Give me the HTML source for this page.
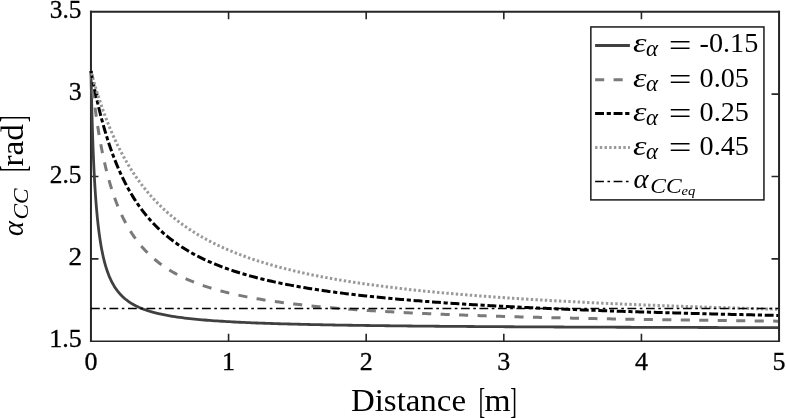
<!DOCTYPE html>
<html><head><meta charset="utf-8"><style>html,body{margin:0;padding:0;background:#fff;overflow:hidden}svg{display:block}</style></head><body>
<svg width="786" height="418" viewBox="0 0 786 418">
<rect width="786" height="418" fill="#fff"/>
<defs><clipPath id="c"><rect x="80" y="0" width="699.05" height="341.3"/></clipPath></defs>
<path d="M90.95 10.75V342.0" stroke="#262626" stroke-width="2" fill="none"/>
<path d="M89.95 341.3H780.05" stroke="#262626" stroke-width="1.5" fill="none"/>
<path d="M228.57 341.3V333.8M366.19 341.3V333.8M503.81 341.3V333.8M641.43 341.3V333.8M90.95 258.91H98.45M90.95 176.53H98.45M90.95 94.14H98.45" stroke="#262626" stroke-width="1.6" fill="none"/>
<g clip-path="url(#c)" fill="none" stroke-linejoin="round">
<path d="M91.00 70.96 L91.09 75.61 L91.17 80.09 L91.26 84.40 L91.35 88.56 L91.44 92.57 L91.52 96.44 L91.61 100.19 L91.70 103.80 L91.78 107.31 L91.87 110.70 L91.96 113.98 L92.05 117.17 L92.13 120.26 L92.22 123.25 L92.31 126.16 L92.39 128.99 L92.48 131.74 L92.57 134.41 L92.65 137.01 L92.74 139.54 L92.83 142.01 L92.92 144.41 L93.00 146.74 L93.09 149.02 L93.18 151.25 L93.26 153.42 L93.35 155.53 L93.44 157.60 L93.53 159.61 L93.61 161.58 L93.70 163.51 L93.79 165.39 L93.87 167.23 L93.96 169.03 L94.05 170.79 L94.14 172.51 L94.22 174.19 L94.31 175.84 L94.40 177.46 L94.48 179.04 L94.57 180.59 L94.66 182.11 L94.74 183.60 L94.83 185.06 L94.92 186.49 L95.01 187.89 L95.09 189.26 L95.18 190.61 L95.27 191.94 L95.35 193.24 L95.44 194.51 L95.53 195.77 L95.62 197.00 L95.70 198.21 L95.79 199.39 L95.88 200.56 L95.96 201.70 L96.05 202.83 L96.14 203.94 L96.23 205.03 L96.31 206.10 L96.40 207.15 L96.49 208.18 L96.57 209.20 L96.66 210.20 L96.75 211.19 L96.83 212.16 L96.92 213.11 L97.01 214.05 L97.10 214.97 L97.18 215.89 L97.27 216.78 L97.36 217.66 L97.44 218.53 L97.53 219.39 L97.62 220.23 L97.71 221.07 L97.79 221.88 L97.88 222.69 L98.19 225.48 L98.50 228.14 L98.81 230.66 L99.12 233.07 L99.44 235.36 L99.75 237.56 L100.06 239.65 L100.37 241.66 L100.68 243.58 L100.99 245.42 L101.30 247.19 L101.61 248.89 L101.93 250.52 L102.24 252.09 L102.55 253.60 L102.86 255.06 L103.17 256.46 L103.48 257.81 L103.79 259.12 L104.10 260.38 L104.41 261.60 L104.73 262.78 L105.04 263.91 L105.35 265.02 L105.66 266.08 L105.97 267.12 L106.28 268.12 L106.59 269.09 L106.90 270.03 L107.21 270.95 L107.53 271.84 L107.84 272.70 L108.15 273.54 L108.46 274.35 L108.77 275.15 L109.08 275.92 L109.39 276.67 L109.70 277.40 L110.02 278.11 L110.33 278.80 L110.64 279.48 L110.95 280.13 L111.26 280.78 L111.57 281.40 L111.88 282.01 L112.19 282.61 L112.50 283.19 L112.82 283.76 L113.13 284.31 L113.44 284.85 L113.75 285.38 L114.06 285.90 L114.37 286.41 L114.68 286.90 L114.99 287.39 L115.30 287.86 L115.62 288.32 L115.93 288.78 L116.24 289.22 L116.55 289.66 L116.86 290.08 L117.17 290.50 L117.48 290.91 L117.79 291.31 L118.11 291.70 L118.42 292.09 L118.73 292.47 L119.04 292.84 L119.35 293.20 L119.66 293.56 L119.97 293.91 L120.28 294.25 L120.59 294.59 L120.91 294.92 L121.22 295.24 L121.53 295.56 L121.84 295.88 L122.15 296.18 L122.46 296.49 L122.77 296.78 L123.08 297.08 L123.39 297.36 L123.71 297.64 L124.02 297.92 L124.33 298.19 L124.64 298.46 L124.95 298.73 L125.26 298.99 L125.57 299.24 L125.88 299.49 L126.20 299.74 L126.51 299.98 L126.82 300.22 L127.13 300.46 L127.44 300.69 L127.75 300.92 L128.06 301.15 L128.37 301.37 L128.68 301.59 L129.00 301.80 L129.31 302.01 L129.62 302.22 L129.93 302.43 L130.24 302.63 L130.55 302.83 L130.86 303.03 L131.17 303.22 L131.48 303.41 L131.80 303.60 L132.11 303.79 L132.42 303.97 L132.73 304.15 L133.04 304.33 L133.35 304.51 L133.66 304.68 L133.97 304.85 L134.29 305.02 L134.60 305.19 L134.91 305.36 L135.22 305.52 L135.53 305.68 L135.84 305.84 L136.15 305.99 L136.46 306.15 L136.77 306.30 L137.09 306.45 L137.40 306.60 L137.71 306.75 L138.02 306.89 L138.33 307.03 L138.64 307.18 L138.95 307.32 L139.26 307.45 L139.57 307.59 L139.89 307.72 L140.20 307.86 L140.51 307.99 L140.82 308.12 L141.13 308.25 L141.44 308.38 L141.75 308.50 L142.06 308.62 L142.38 308.75 L142.69 308.87 L143.00 308.99 L143.31 309.11 L143.62 309.22 L143.93 309.34 L144.24 309.45 L144.55 309.57 L144.86 309.68 L145.18 309.79 L145.49 309.90 L145.80 310.01 L146.11 310.12 L146.42 310.22 L146.73 310.33 L147.04 310.43 L147.35 310.53 L147.66 310.64 L147.98 310.74 L148.29 310.84 L148.60 310.94 L148.91 311.03 L149.22 311.13 L149.53 311.23 L149.84 311.32 L150.15 311.41 L150.47 311.51 L150.78 311.60 L151.09 311.69 L151.40 311.78 L151.71 311.87 L152.02 311.96 L152.33 312.04 L152.64 312.13 L152.95 312.22 L153.27 312.30 L153.58 312.38 L153.89 312.47 L154.20 312.55 L154.51 312.63 L154.82 312.71 L155.13 312.79 L155.44 312.87 L155.75 312.95 L156.07 313.03 L156.38 313.11 L156.69 313.18 L157.00 313.26 L157.31 313.33 L157.62 313.41 L157.93 313.48 L158.24 313.56 L158.56 313.63 L158.87 313.70 L159.18 313.77 L159.49 313.84 L159.80 313.91 L162.29 314.45 L164.77 314.95 L167.26 315.42 L169.75 315.86 L172.23 316.28 L174.72 316.67 L177.21 317.03 L179.69 317.38 L182.18 317.71 L184.67 318.02 L187.15 318.32 L189.64 318.60 L192.13 318.87 L194.61 319.12 L197.10 319.36 L199.59 319.59 L202.07 319.81 L204.56 320.02 L207.05 320.23 L209.53 320.42 L212.02 320.60 L214.51 320.78 L217.00 320.95 L219.48 321.12 L221.97 321.27 L224.46 321.43 L226.94 321.57 L229.43 321.71 L231.92 321.85 L234.40 321.98 L236.89 322.11 L239.38 322.23 L241.86 322.35 L244.35 322.46 L246.84 322.57 L249.32 322.68 L251.81 322.78 L254.30 322.88 L256.78 322.98 L259.27 323.07 L261.76 323.17 L264.24 323.25 L266.73 323.34 L269.22 323.42 L271.70 323.51 L274.19 323.59 L276.68 323.66 L279.16 323.74 L281.65 323.81 L284.14 323.88 L286.62 323.95 L289.11 324.02 L291.60 324.08 L294.08 324.15 L296.57 324.21 L299.06 324.27 L301.54 324.33 L304.03 324.39 L306.52 324.44 L309.00 324.50 L311.49 324.55 L313.98 324.61 L316.47 324.66 L318.95 324.71 L321.44 324.76 L323.93 324.81 L326.41 324.85 L328.90 324.90 L331.39 324.94 L333.87 324.99 L336.36 325.03 L338.85 325.07 L341.33 325.12 L343.82 325.16 L346.31 325.20 L348.79 325.24 L351.28 325.27 L353.77 325.31 L356.25 325.35 L358.74 325.38 L361.23 325.42 L363.71 325.45 L366.20 325.49 L368.69 325.52 L371.17 325.55 L373.66 325.59 L376.15 325.62 L378.63 325.65 L381.12 325.68 L383.61 325.71 L386.09 325.74 L388.58 325.77 L391.07 325.80 L393.55 325.82 L396.04 325.85 L398.53 325.88 L401.01 325.91 L403.50 325.93 L405.99 325.96 L408.47 325.98 L410.96 326.01 L413.45 326.03 L415.93 326.06 L418.42 326.08 L420.91 326.10 L423.40 326.13 L425.88 326.15 L428.37 326.17 L430.86 326.19 L433.34 326.22 L435.83 326.24 L438.32 326.26 L440.80 326.28 L443.29 326.30 L445.78 326.32 L448.26 326.34 L450.75 326.36 L453.24 326.38 L455.72 326.40 L458.21 326.41 L460.70 326.43 L463.18 326.45 L465.67 326.47 L468.16 326.49 L470.64 326.50 L473.13 326.52 L475.62 326.54 L478.10 326.56 L480.59 326.57 L483.08 326.59 L485.56 326.60 L488.05 326.62 L490.54 326.64 L493.02 326.65 L495.51 326.67 L498.00 326.68 L500.48 326.70 L502.97 326.71 L505.46 326.73 L507.94 326.74 L510.43 326.75 L512.92 326.77 L515.40 326.78 L517.89 326.80 L520.38 326.81 L522.87 326.82 L525.35 326.84 L527.84 326.85 L530.33 326.86 L532.81 326.87 L535.30 326.89 L537.79 326.90 L540.27 326.91 L542.76 326.92 L545.25 326.94 L547.73 326.95 L550.22 326.96 L552.71 326.97 L555.19 326.98 L557.68 326.99 L560.17 327.00 L562.65 327.02 L565.14 327.03 L567.63 327.04 L570.11 327.05 L572.60 327.06 L575.09 327.07 L577.57 327.08 L580.06 327.09 L582.55 327.10 L585.03 327.11 L587.52 327.12 L590.01 327.13 L592.49 327.14 L594.98 327.15 L597.47 327.16 L599.95 327.17 L602.44 327.18 L604.93 327.19 L607.41 327.20 L609.90 327.21 L612.39 327.21 L614.87 327.22 L617.36 327.23 L619.85 327.24 L622.33 327.25 L624.82 327.26 L627.31 327.27 L629.80 327.27 L632.28 327.28 L634.77 327.29 L637.26 327.30 L639.74 327.31 L642.23 327.32 L644.72 327.32 L647.20 327.33 L649.69 327.34 L652.18 327.35 L654.66 327.35 L657.15 327.36 L659.64 327.37 L662.12 327.38 L664.61 327.38 L667.10 327.39 L669.58 327.40 L672.07 327.41 L674.56 327.41 L677.04 327.42 L679.53 327.43 L682.02 327.43 L684.50 327.44 L686.99 327.45 L689.48 327.45 L691.96 327.46 L694.45 327.47 L696.94 327.47 L699.42 327.48 L701.91 327.49 L704.40 327.49 L706.88 327.50 L709.37 327.51 L711.86 327.51 L714.34 327.52 L716.83 327.52 L719.32 327.53 L721.80 327.54 L724.29 327.54 L726.78 327.55 L729.27 327.55 L731.75 327.56 L734.24 327.57 L736.73 327.57 L739.21 327.58 L741.70 327.58 L744.19 327.59 L746.67 327.59 L749.16 327.60 L751.65 327.61 L754.13 327.61 L756.62 327.62 L759.11 327.62 L761.59 327.63 L764.08 327.63 L766.57 327.64 L769.05 327.64 L771.54 327.65 L774.03 327.65 L776.51 327.66 L779.00 327.66" stroke="#404040" stroke-width="2.8"/>
<path d="M91.00 70.96 L91.09 71.87 L91.17 72.78 L91.26 73.68 L91.35 74.57 L91.44 75.46 L91.52 76.34 L91.61 77.21 L91.70 78.08 L91.78 78.94 L91.87 79.80 L91.96 80.65 L92.05 81.49 L92.13 82.33 L92.22 83.16 L92.31 83.99 L92.39 84.81 L92.48 85.63 L92.57 86.44 L92.65 87.24 L92.74 88.04 L92.83 88.83 L92.92 89.62 L93.00 90.40 L93.09 91.18 L93.18 91.95 L93.26 92.72 L93.35 93.48 L93.44 94.24 L93.53 94.99 L93.61 95.74 L93.70 96.48 L93.79 97.22 L93.87 97.95 L93.96 98.68 L94.05 99.41 L94.14 100.13 L94.22 100.84 L94.31 101.55 L94.40 102.26 L94.48 102.96 L94.57 103.66 L94.66 104.35 L94.74 105.04 L94.83 105.72 L94.92 106.40 L95.01 107.08 L95.09 107.75 L95.18 108.42 L95.27 109.08 L95.35 109.74 L95.44 110.40 L95.53 111.05 L95.62 111.70 L95.70 112.34 L95.79 112.98 L95.88 113.62 L95.96 114.25 L96.05 114.88 L96.14 115.50 L96.23 116.13 L96.31 116.74 L96.40 117.36 L96.49 117.97 L96.57 118.58 L96.66 119.18 L96.75 119.78 L96.83 120.38 L96.92 120.97 L97.01 121.56 L97.10 122.15 L97.18 122.73 L97.27 123.32 L97.36 123.89 L97.44 124.47 L97.53 125.04 L97.62 125.61 L97.71 126.17 L97.79 126.73 L97.88 127.29 L98.19 129.26 L98.50 131.19 L98.81 133.09 L99.12 134.95 L99.44 136.78 L99.75 138.57 L100.06 140.33 L100.37 142.06 L100.68 143.76 L100.99 145.43 L101.30 147.07 L101.61 148.68 L101.93 150.26 L102.24 151.82 L102.55 153.35 L102.86 154.85 L103.17 156.33 L103.48 157.79 L103.79 159.22 L104.10 160.63 L104.41 162.01 L104.73 163.38 L105.04 164.72 L105.35 166.04 L105.66 167.35 L105.97 168.63 L106.28 169.89 L106.59 171.13 L106.90 172.36 L107.21 173.56 L107.53 174.75 L107.84 175.93 L108.15 177.08 L108.46 178.22 L108.77 179.34 L109.08 180.45 L109.39 181.54 L109.70 182.61 L110.02 183.67 L110.33 184.72 L110.64 185.75 L110.95 186.77 L111.26 187.77 L111.57 188.76 L111.88 189.74 L112.19 190.70 L112.50 191.65 L112.82 192.59 L113.13 193.52 L113.44 194.44 L113.75 195.34 L114.06 196.23 L114.37 197.11 L114.68 197.98 L114.99 198.84 L115.30 199.69 L115.62 200.53 L115.93 201.35 L116.24 202.17 L116.55 202.98 L116.86 203.78 L117.17 204.56 L117.48 205.34 L117.79 206.11 L118.11 206.87 L118.42 207.63 L118.73 208.37 L119.04 209.10 L119.35 209.83 L119.66 210.55 L119.97 211.26 L120.28 211.96 L120.59 212.65 L120.91 213.34 L121.22 214.02 L121.53 214.69 L121.84 215.35 L122.15 216.01 L122.46 216.66 L122.77 217.30 L123.08 217.94 L123.39 218.57 L123.71 219.19 L124.02 219.80 L124.33 220.41 L124.64 221.01 L124.95 221.61 L125.26 222.20 L125.57 222.78 L125.88 223.36 L126.20 223.93 L126.51 224.50 L126.82 225.06 L127.13 225.62 L127.44 226.17 L127.75 226.71 L128.06 227.25 L128.37 227.78 L128.68 228.31 L129.00 228.83 L129.31 229.35 L129.62 229.86 L129.93 230.37 L130.24 230.87 L130.55 231.37 L130.86 231.86 L131.17 232.35 L131.48 232.84 L131.80 233.32 L132.11 233.79 L132.42 234.26 L132.73 234.73 L133.04 235.19 L133.35 235.65 L133.66 236.10 L133.97 236.55 L134.29 236.99 L134.60 237.44 L134.91 237.87 L135.22 238.31 L135.53 238.74 L135.84 239.16 L136.15 239.58 L136.46 240.00 L136.77 240.42 L137.09 240.83 L137.40 241.23 L137.71 241.64 L138.02 242.04 L138.33 242.44 L138.64 242.83 L138.95 243.22 L139.26 243.61 L139.57 243.99 L139.89 244.37 L140.20 244.75 L140.51 245.12 L140.82 245.49 L141.13 245.86 L141.44 246.22 L141.75 246.59 L142.06 246.95 L142.38 247.30 L142.69 247.65 L143.00 248.00 L143.31 248.35 L143.62 248.70 L143.93 249.04 L144.24 249.38 L144.55 249.71 L144.86 250.05 L145.18 250.38 L145.49 250.71 L145.80 251.03 L146.11 251.36 L146.42 251.68 L146.73 252.00 L147.04 252.31 L147.35 252.62 L147.66 252.94 L147.98 253.24 L148.29 253.55 L148.60 253.85 L148.91 254.16 L149.22 254.46 L149.53 254.75 L149.84 255.05 L150.15 255.34 L150.47 255.63 L150.78 255.92 L151.09 256.21 L151.40 256.49 L151.71 256.77 L152.02 257.05 L152.33 257.33 L152.64 257.61 L152.95 257.88 L153.27 258.15 L153.58 258.42 L153.89 258.69 L154.20 258.96 L154.51 259.22 L154.82 259.48 L155.13 259.74 L155.44 260.00 L155.75 260.26 L156.07 260.51 L156.38 260.77 L156.69 261.02 L157.00 261.27 L157.31 261.52 L157.62 261.76 L157.93 262.01 L158.24 262.25 L158.56 262.49 L158.87 262.73 L159.18 262.97 L159.49 263.21 L159.80 263.44 L162.29 265.26 L164.77 266.99 L167.26 268.64 L169.75 270.20 L172.23 271.69 L174.72 273.10 L177.21 274.46 L179.69 275.75 L182.18 276.98 L184.67 278.17 L187.15 279.30 L189.64 280.38 L192.13 281.43 L194.61 282.42 L197.10 283.38 L199.59 284.31 L202.07 285.20 L204.56 286.05 L207.05 286.87 L209.53 287.67 L212.02 288.43 L214.51 289.17 L217.00 289.89 L219.48 290.58 L221.97 291.24 L224.46 291.89 L226.94 292.51 L229.43 293.12 L231.92 293.70 L234.40 294.27 L236.89 294.82 L239.38 295.35 L241.86 295.87 L244.35 296.37 L246.84 296.86 L249.32 297.33 L251.81 297.79 L254.30 298.24 L256.78 298.68 L259.27 299.10 L261.76 299.51 L264.24 299.91 L266.73 300.30 L269.22 300.68 L271.70 301.05 L274.19 301.42 L276.68 301.77 L279.16 302.11 L281.65 302.45 L284.14 302.77 L286.62 303.09 L289.11 303.40 L291.60 303.71 L294.08 304.01 L296.57 304.30 L299.06 304.58 L301.54 304.86 L304.03 305.13 L306.52 305.40 L309.00 305.66 L311.49 305.91 L313.98 306.16 L316.47 306.40 L318.95 306.64 L321.44 306.87 L323.93 307.10 L326.41 307.33 L328.90 307.54 L331.39 307.76 L333.87 307.97 L336.36 308.18 L338.85 308.38 L341.33 308.58 L343.82 308.77 L346.31 308.96 L348.79 309.15 L351.28 309.34 L353.77 309.52 L356.25 309.69 L358.74 309.87 L361.23 310.04 L363.71 310.21 L366.20 310.37 L368.69 310.53 L371.17 310.69 L373.66 310.85 L376.15 311.00 L378.63 311.15 L381.12 311.30 L383.61 311.45 L386.09 311.59 L388.58 311.73 L391.07 311.87 L393.55 312.01 L396.04 312.14 L398.53 312.28 L401.01 312.41 L403.50 312.53 L405.99 312.66 L408.47 312.79 L410.96 312.91 L413.45 313.03 L415.93 313.15 L418.42 313.26 L420.91 313.38 L423.40 313.49 L425.88 313.60 L428.37 313.71 L430.86 313.82 L433.34 313.93 L435.83 314.03 L438.32 314.14 L440.80 314.24 L443.29 314.34 L445.78 314.44 L448.26 314.54 L450.75 314.63 L453.24 314.73 L455.72 314.82 L458.21 314.92 L460.70 315.01 L463.18 315.10 L465.67 315.19 L468.16 315.27 L470.64 315.36 L473.13 315.45 L475.62 315.53 L478.10 315.61 L480.59 315.70 L483.08 315.78 L485.56 315.86 L488.05 315.94 L490.54 316.01 L493.02 316.09 L495.51 316.17 L498.00 316.24 L500.48 316.32 L502.97 316.39 L505.46 316.46 L507.94 316.53 L510.43 316.60 L512.92 316.67 L515.40 316.74 L517.89 316.81 L520.38 316.88 L522.87 316.94 L525.35 317.01 L527.84 317.08 L530.33 317.14 L532.81 317.20 L535.30 317.27 L537.79 317.33 L540.27 317.39 L542.76 317.45 L545.25 317.51 L547.73 317.57 L550.22 317.63 L552.71 317.69 L555.19 317.74 L557.68 317.80 L560.17 317.86 L562.65 317.91 L565.14 317.97 L567.63 318.02 L570.11 318.08 L572.60 318.13 L575.09 318.18 L577.57 318.23 L580.06 318.29 L582.55 318.34 L585.03 318.39 L587.52 318.44 L590.01 318.49 L592.49 318.53 L594.98 318.58 L597.47 318.63 L599.95 318.68 L602.44 318.73 L604.93 318.77 L607.41 318.82 L609.90 318.86 L612.39 318.91 L614.87 318.95 L617.36 319.00 L619.85 319.04 L622.33 319.09 L624.82 319.13 L627.31 319.17 L629.80 319.21 L632.28 319.26 L634.77 319.30 L637.26 319.34 L639.74 319.38 L642.23 319.42 L644.72 319.46 L647.20 319.50 L649.69 319.54 L652.18 319.58 L654.66 319.61 L657.15 319.65 L659.64 319.69 L662.12 319.73 L664.61 319.76 L667.10 319.80 L669.58 319.84 L672.07 319.87 L674.56 319.91 L677.04 319.94 L679.53 319.98 L682.02 320.01 L684.50 320.05 L686.99 320.08 L689.48 320.12 L691.96 320.15 L694.45 320.18 L696.94 320.22 L699.42 320.25 L701.91 320.28 L704.40 320.31 L706.88 320.35 L709.37 320.38 L711.86 320.41 L714.34 320.44 L716.83 320.47 L719.32 320.50 L721.80 320.53 L724.29 320.56 L726.78 320.59 L729.27 320.62 L731.75 320.65 L734.24 320.68 L736.73 320.71 L739.21 320.74 L741.70 320.77 L744.19 320.80 L746.67 320.82 L749.16 320.85 L751.65 320.88 L754.13 320.91 L756.62 320.93 L759.11 320.96 L761.59 320.99 L764.08 321.01 L766.57 321.04 L769.05 321.07 L771.54 321.09 L774.03 321.12 L776.51 321.14 L779.00 321.17" stroke="#7a7a7a" stroke-width="3" stroke-dasharray="9.1 9.38"/>
<path d="M91.00 70.96 L91.09 71.43 L91.17 71.90 L91.26 72.36 L91.35 72.83 L91.44 73.29 L91.52 73.75 L91.61 74.22 L91.70 74.67 L91.78 75.13 L91.87 75.59 L91.96 76.04 L92.05 76.50 L92.13 76.95 L92.22 77.40 L92.31 77.85 L92.39 78.30 L92.48 78.75 L92.57 79.19 L92.65 79.64 L92.74 80.08 L92.83 80.52 L92.92 80.96 L93.00 81.40 L93.09 81.83 L93.18 82.27 L93.26 82.70 L93.35 83.14 L93.44 83.57 L93.53 84.00 L93.61 84.43 L93.70 84.86 L93.79 85.28 L93.87 85.71 L93.96 86.13 L94.05 86.56 L94.14 86.98 L94.22 87.40 L94.31 87.82 L94.40 88.23 L94.48 88.65 L94.57 89.06 L94.66 89.48 L94.74 89.89 L94.83 90.30 L94.92 90.71 L95.01 91.12 L95.09 91.53 L95.18 91.93 L95.27 92.34 L95.35 92.74 L95.44 93.15 L95.53 93.55 L95.62 93.95 L95.70 94.35 L95.79 94.75 L95.88 95.14 L95.96 95.54 L96.05 95.93 L96.14 96.33 L96.23 96.72 L96.31 97.11 L96.40 97.50 L96.49 97.89 L96.57 98.27 L96.66 98.66 L96.75 99.05 L96.83 99.43 L96.92 99.81 L97.01 100.19 L97.10 100.57 L97.18 100.95 L97.27 101.33 L97.36 101.71 L97.44 102.09 L97.53 102.46 L97.62 102.84 L97.71 103.21 L97.79 103.58 L97.88 103.95 L98.19 105.27 L98.50 106.57 L98.81 107.86 L99.12 109.13 L99.44 110.40 L99.75 111.65 L100.06 112.89 L100.37 114.11 L100.68 115.32 L100.99 116.52 L101.30 117.71 L101.61 118.89 L101.93 120.06 L102.24 121.21 L102.55 122.35 L102.86 123.48 L103.17 124.61 L103.48 125.71 L103.79 126.81 L104.10 127.90 L104.41 128.98 L104.73 130.05 L105.04 131.11 L105.35 132.15 L105.66 133.19 L105.97 134.22 L106.28 135.24 L106.59 136.25 L106.90 137.25 L107.21 138.24 L107.53 139.22 L107.84 140.19 L108.15 141.15 L108.46 142.11 L108.77 143.05 L109.08 143.99 L109.39 144.92 L109.70 145.84 L110.02 146.75 L110.33 147.65 L110.64 148.55 L110.95 149.43 L111.26 150.31 L111.57 151.19 L111.88 152.05 L112.19 152.91 L112.50 153.76 L112.82 154.60 L113.13 155.43 L113.44 156.26 L113.75 157.08 L114.06 157.89 L114.37 158.70 L114.68 159.50 L114.99 160.29 L115.30 161.08 L115.62 161.86 L115.93 162.63 L116.24 163.39 L116.55 164.15 L116.86 164.91 L117.17 165.65 L117.48 166.39 L117.79 167.13 L118.11 167.86 L118.42 168.58 L118.73 169.30 L119.04 170.01 L119.35 170.71 L119.66 171.41 L119.97 172.11 L120.28 172.79 L120.59 173.48 L120.91 174.15 L121.22 174.82 L121.53 175.49 L121.84 176.15 L122.15 176.81 L122.46 177.46 L122.77 178.10 L123.08 178.74 L123.39 179.38 L123.71 180.01 L124.02 180.64 L124.33 181.26 L124.64 181.87 L124.95 182.48 L125.26 183.09 L125.57 183.69 L125.88 184.29 L126.20 184.88 L126.51 185.47 L126.82 186.06 L127.13 186.64 L127.44 187.21 L127.75 187.78 L128.06 188.35 L128.37 188.91 L128.68 189.47 L129.00 190.02 L129.31 190.57 L129.62 191.12 L129.93 191.66 L130.24 192.20 L130.55 192.73 L130.86 193.26 L131.17 193.79 L131.48 194.31 L131.80 194.83 L132.11 195.35 L132.42 195.86 L132.73 196.37 L133.04 196.87 L133.35 197.37 L133.66 197.87 L133.97 198.36 L134.29 198.85 L134.60 199.34 L134.91 199.82 L135.22 200.30 L135.53 200.78 L135.84 201.25 L136.15 201.72 L136.46 202.19 L136.77 202.65 L137.09 203.11 L137.40 203.57 L137.71 204.02 L138.02 204.47 L138.33 204.92 L138.64 205.37 L138.95 205.81 L139.26 206.25 L139.57 206.69 L139.89 207.12 L140.20 207.55 L140.51 207.98 L140.82 208.40 L141.13 208.82 L141.44 209.24 L141.75 209.66 L142.06 210.07 L142.38 210.48 L142.69 210.89 L143.00 211.30 L143.31 211.70 L143.62 212.10 L143.93 212.50 L144.24 212.89 L144.55 213.28 L144.86 213.67 L145.18 214.06 L145.49 214.45 L145.80 214.83 L146.11 215.21 L146.42 215.59 L146.73 215.96 L147.04 216.34 L147.35 216.71 L147.66 217.08 L147.98 217.44 L148.29 217.81 L148.60 218.17 L148.91 218.53 L149.22 218.89 L149.53 219.24 L149.84 219.59 L150.15 219.94 L150.47 220.29 L150.78 220.64 L151.09 220.98 L151.40 221.33 L151.71 221.67 L152.02 222.00 L152.33 222.34 L152.64 222.67 L152.95 223.01 L153.27 223.34 L153.58 223.67 L153.89 223.99 L154.20 224.32 L154.51 224.64 L154.82 224.96 L155.13 225.28 L155.44 225.59 L155.75 225.91 L156.07 226.22 L156.38 226.53 L156.69 226.84 L157.00 227.15 L157.31 227.46 L157.62 227.76 L157.93 228.06 L158.24 228.36 L158.56 228.66 L158.87 228.96 L159.18 229.26 L159.49 229.55 L159.80 229.84 L162.29 232.12 L164.77 234.30 L167.26 236.39 L169.75 238.39 L172.23 240.30 L174.72 242.14 L177.21 243.91 L179.69 245.61 L182.18 247.25 L184.67 248.82 L187.15 250.34 L189.64 251.80 L192.13 253.20 L194.61 254.56 L197.10 255.87 L199.59 257.14 L202.07 258.37 L204.56 259.55 L207.05 260.70 L209.53 261.81 L212.02 262.88 L214.51 263.92 L217.00 264.93 L219.48 265.91 L221.97 266.86 L224.46 267.79 L226.94 268.68 L229.43 269.55 L231.92 270.40 L234.40 271.22 L236.89 272.02 L239.38 272.80 L241.86 273.56 L244.35 274.29 L246.84 275.01 L249.32 275.71 L251.81 276.40 L254.30 277.06 L256.78 277.71 L259.27 278.34 L261.76 278.96 L264.24 279.56 L266.73 280.15 L269.22 280.73 L271.70 281.29 L274.19 281.84 L276.68 282.38 L279.16 282.90 L281.65 283.42 L284.14 283.92 L286.62 284.41 L289.11 284.89 L291.60 285.36 L294.08 285.82 L296.57 286.27 L299.06 286.72 L301.54 287.15 L304.03 287.58 L306.52 287.99 L309.00 288.40 L311.49 288.80 L313.98 289.19 L316.47 289.58 L318.95 289.96 L321.44 290.33 L323.93 290.69 L326.41 291.05 L328.90 291.40 L331.39 291.74 L333.87 292.08 L336.36 292.42 L338.85 292.74 L341.33 293.06 L343.82 293.38 L346.31 293.69 L348.79 293.99 L351.28 294.29 L353.77 294.59 L356.25 294.88 L358.74 295.16 L361.23 295.45 L363.71 295.72 L366.20 295.99 L368.69 296.26 L371.17 296.52 L373.66 296.78 L376.15 297.04 L378.63 297.29 L381.12 297.54 L383.61 297.78 L386.09 298.02 L388.58 298.26 L391.07 298.49 L393.55 298.72 L396.04 298.95 L398.53 299.17 L401.01 299.39 L403.50 299.61 L405.99 299.82 L408.47 300.03 L410.96 300.24 L413.45 300.45 L415.93 300.65 L418.42 300.85 L420.91 301.05 L423.40 301.24 L425.88 301.43 L428.37 301.62 L430.86 301.81 L433.34 301.99 L435.83 302.17 L438.32 302.35 L440.80 302.53 L443.29 302.71 L445.78 302.88 L448.26 303.05 L450.75 303.22 L453.24 303.38 L455.72 303.55 L458.21 303.71 L460.70 303.87 L463.18 304.03 L465.67 304.19 L468.16 304.34 L470.64 304.49 L473.13 304.65 L475.62 304.80 L478.10 304.94 L480.59 305.09 L483.08 305.23 L485.56 305.38 L488.05 305.52 L490.54 305.66 L493.02 305.79 L495.51 305.93 L498.00 306.07 L500.48 306.20 L502.97 306.33 L505.46 306.46 L507.94 306.59 L510.43 306.72 L512.92 306.85 L515.40 306.97 L517.89 307.09 L520.38 307.22 L522.87 307.34 L525.35 307.46 L527.84 307.58 L530.33 307.69 L532.81 307.81 L535.30 307.92 L537.79 308.04 L540.27 308.15 L542.76 308.26 L545.25 308.37 L547.73 308.48 L550.22 308.59 L552.71 308.70 L555.19 308.80 L557.68 308.91 L560.17 309.01 L562.65 309.12 L565.14 309.22 L567.63 309.32 L570.11 309.42 L572.60 309.52 L575.09 309.62 L577.57 309.72 L580.06 309.81 L582.55 309.91 L585.03 310.00 L587.52 310.10 L590.01 310.19 L592.49 310.28 L594.98 310.37 L597.47 310.46 L599.95 310.55 L602.44 310.64 L604.93 310.73 L607.41 310.82 L609.90 310.91 L612.39 310.99 L614.87 311.08 L617.36 311.16 L619.85 311.24 L622.33 311.33 L624.82 311.41 L627.31 311.49 L629.80 311.57 L632.28 311.65 L634.77 311.73 L637.26 311.81 L639.74 311.89 L642.23 311.97 L644.72 312.04 L647.20 312.12 L649.69 312.20 L652.18 312.27 L654.66 312.35 L657.15 312.42 L659.64 312.49 L662.12 312.57 L664.61 312.64 L667.10 312.71 L669.58 312.78 L672.07 312.85 L674.56 312.92 L677.04 312.99 L679.53 313.06 L682.02 313.13 L684.50 313.19 L686.99 313.26 L689.48 313.33 L691.96 313.39 L694.45 313.46 L696.94 313.52 L699.42 313.59 L701.91 313.65 L704.40 313.72 L706.88 313.78 L709.37 313.84 L711.86 313.91 L714.34 313.97 L716.83 314.03 L719.32 314.09 L721.80 314.15 L724.29 314.21 L726.78 314.27 L729.27 314.33 L731.75 314.39 L734.24 314.45 L736.73 314.50 L739.21 314.56 L741.70 314.62 L744.19 314.68 L746.67 314.73 L749.16 314.79 L751.65 314.84 L754.13 314.90 L756.62 314.95 L759.11 315.01 L761.59 315.06 L764.08 315.12 L766.57 315.17 L769.05 315.22 L771.54 315.27 L774.03 315.33 L776.51 315.38 L779.00 315.43" stroke="#000000" stroke-width="3" stroke-dasharray="8.9 2.7 4.2 2.7"/>
<path d="M91.00 70.96 L91.09 71.29 L91.17 71.62 L91.26 71.95 L91.35 72.27 L91.44 72.60 L91.52 72.93 L91.61 73.25 L91.70 73.58 L91.78 73.90 L91.87 74.22 L91.96 74.55 L92.05 74.87 L92.13 75.19 L92.22 75.51 L92.31 75.83 L92.39 76.15 L92.48 76.47 L92.57 76.78 L92.65 77.10 L92.74 77.42 L92.83 77.73 L92.92 78.04 L93.00 78.36 L93.09 78.67 L93.18 78.98 L93.26 79.30 L93.35 79.61 L93.44 79.92 L93.53 80.23 L93.61 80.53 L93.70 80.84 L93.79 81.15 L93.87 81.46 L93.96 81.76 L94.05 82.07 L94.14 82.37 L94.22 82.68 L94.31 82.98 L94.40 83.28 L94.48 83.58 L94.57 83.88 L94.66 84.19 L94.74 84.49 L94.83 84.78 L94.92 85.08 L95.01 85.38 L95.09 85.68 L95.18 85.97 L95.27 86.27 L95.35 86.57 L95.44 86.86 L95.53 87.15 L95.62 87.45 L95.70 87.74 L95.79 88.03 L95.88 88.32 L95.96 88.61 L96.05 88.90 L96.14 89.19 L96.23 89.48 L96.31 89.77 L96.40 90.06 L96.49 90.34 L96.57 90.63 L96.66 90.92 L96.75 91.20 L96.83 91.49 L96.92 91.77 L97.01 92.05 L97.10 92.34 L97.18 92.62 L97.27 92.90 L97.36 93.18 L97.44 93.46 L97.53 93.74 L97.62 94.02 L97.71 94.30 L97.79 94.57 L97.88 94.85 L98.19 95.84 L98.50 96.81 L98.81 97.78 L99.12 98.75 L99.44 99.70 L99.75 100.65 L100.06 101.59 L100.37 102.52 L100.68 103.45 L100.99 104.37 L101.30 105.29 L101.61 106.19 L101.93 107.09 L102.24 107.99 L102.55 108.87 L102.86 109.75 L103.17 110.63 L103.48 111.50 L103.79 112.36 L104.10 113.21 L104.41 114.06 L104.73 114.90 L105.04 115.74 L105.35 116.57 L105.66 117.40 L105.97 118.22 L106.28 119.03 L106.59 119.84 L106.90 120.64 L107.21 121.44 L107.53 122.23 L107.84 123.01 L108.15 123.79 L108.46 124.57 L108.77 125.34 L109.08 126.10 L109.39 126.86 L109.70 127.62 L110.02 128.37 L110.33 129.11 L110.64 129.85 L110.95 130.58 L111.26 131.31 L111.57 132.03 L111.88 132.75 L112.19 133.47 L112.50 134.18 L112.82 134.88 L113.13 135.58 L113.44 136.28 L113.75 136.97 L114.06 137.66 L114.37 138.34 L114.68 139.02 L114.99 139.69 L115.30 140.36 L115.62 141.03 L115.93 141.69 L116.24 142.34 L116.55 142.99 L116.86 143.64 L117.17 144.29 L117.48 144.93 L117.79 145.56 L118.11 146.19 L118.42 146.82 L118.73 147.45 L119.04 148.07 L119.35 148.68 L119.66 149.29 L119.97 149.90 L120.28 150.51 L120.59 151.11 L120.91 151.71 L121.22 152.30 L121.53 152.89 L121.84 153.48 L122.15 154.06 L122.46 154.64 L122.77 155.21 L123.08 155.79 L123.39 156.36 L123.71 156.92 L124.02 157.48 L124.33 158.04 L124.64 158.60 L124.95 159.15 L125.26 159.70 L125.57 160.25 L125.88 160.79 L126.20 161.33 L126.51 161.86 L126.82 162.40 L127.13 162.93 L127.44 163.45 L127.75 163.98 L128.06 164.50 L128.37 165.02 L128.68 165.53 L129.00 166.04 L129.31 166.55 L129.62 167.06 L129.93 167.56 L130.24 168.06 L130.55 168.56 L130.86 169.05 L131.17 169.55 L131.48 170.04 L131.80 170.52 L132.11 171.01 L132.42 171.49 L132.73 171.97 L133.04 172.44 L133.35 172.91 L133.66 173.38 L133.97 173.85 L134.29 174.32 L134.60 174.78 L134.91 175.24 L135.22 175.70 L135.53 176.15 L135.84 176.61 L136.15 177.06 L136.46 177.50 L136.77 177.95 L137.09 178.39 L137.40 178.83 L137.71 179.27 L138.02 179.71 L138.33 180.14 L138.64 180.57 L138.95 181.00 L139.26 181.43 L139.57 181.85 L139.89 182.27 L140.20 182.69 L140.51 183.11 L140.82 183.53 L141.13 183.94 L141.44 184.35 L141.75 184.76 L142.06 185.17 L142.38 185.57 L142.69 185.98 L143.00 186.38 L143.31 186.78 L143.62 187.17 L143.93 187.57 L144.24 187.96 L144.55 188.35 L144.86 188.74 L145.18 189.13 L145.49 189.51 L145.80 189.89 L146.11 190.27 L146.42 190.65 L146.73 191.03 L147.04 191.41 L147.35 191.78 L147.66 192.15 L147.98 192.52 L148.29 192.89 L148.60 193.25 L148.91 193.62 L149.22 193.98 L149.53 194.34 L149.84 194.70 L150.15 195.06 L150.47 195.41 L150.78 195.76 L151.09 196.12 L151.40 196.47 L151.71 196.81 L152.02 197.16 L152.33 197.51 L152.64 197.85 L152.95 198.19 L153.27 198.53 L153.58 198.87 L153.89 199.21 L154.20 199.54 L154.51 199.88 L154.82 200.21 L155.13 200.54 L155.44 200.87 L155.75 201.19 L156.07 201.52 L156.38 201.84 L156.69 202.17 L157.00 202.49 L157.31 202.81 L157.62 203.13 L157.93 203.44 L158.24 203.76 L158.56 204.07 L158.87 204.38 L159.18 204.69 L159.49 205.00 L159.80 205.31 L162.29 207.72 L164.77 210.05 L167.26 212.29 L169.75 214.46 L172.23 216.56 L174.72 218.58 L177.21 220.54 L179.69 222.43 L182.18 224.26 L184.67 226.04 L187.15 227.75 L189.64 229.42 L192.13 231.04 L194.61 232.60 L197.10 234.12 L199.59 235.60 L202.07 237.03 L204.56 238.42 L207.05 239.78 L209.53 241.09 L212.02 242.37 L214.51 243.62 L217.00 244.83 L219.48 246.01 L221.97 247.16 L224.46 248.27 L226.94 249.36 L229.43 250.43 L231.92 251.46 L234.40 252.47 L236.89 253.46 L239.38 254.42 L241.86 255.35 L244.35 256.27 L246.84 257.16 L249.32 258.04 L251.81 258.89 L254.30 259.72 L256.78 260.54 L259.27 261.33 L261.76 262.11 L264.24 262.88 L266.73 263.62 L269.22 264.35 L271.70 265.06 L274.19 265.76 L276.68 266.45 L279.16 267.12 L281.65 267.77 L284.14 268.41 L286.62 269.04 L289.11 269.66 L291.60 270.27 L294.08 270.86 L296.57 271.44 L299.06 272.01 L301.54 272.57 L304.03 273.12 L306.52 273.66 L309.00 274.18 L311.49 274.70 L313.98 275.21 L316.47 275.71 L318.95 276.20 L321.44 276.68 L323.93 277.16 L326.41 277.62 L328.90 278.08 L331.39 278.53 L333.87 278.97 L336.36 279.40 L338.85 279.83 L341.33 280.25 L343.82 280.66 L346.31 281.06 L348.79 281.46 L351.28 281.85 L353.77 282.24 L356.25 282.62 L358.74 282.99 L361.23 283.36 L363.71 283.72 L366.20 284.08 L368.69 284.43 L371.17 284.77 L373.66 285.11 L376.15 285.45 L378.63 285.78 L381.12 286.10 L383.61 286.42 L386.09 286.74 L388.58 287.05 L391.07 287.35 L393.55 287.65 L396.04 287.95 L398.53 288.24 L401.01 288.53 L403.50 288.82 L405.99 289.10 L408.47 289.37 L410.96 289.65 L413.45 289.91 L415.93 290.18 L418.42 290.44 L420.91 290.70 L423.40 290.95 L425.88 291.21 L428.37 291.45 L430.86 291.70 L433.34 291.94 L435.83 292.18 L438.32 292.41 L440.80 292.65 L443.29 292.87 L445.78 293.10 L448.26 293.32 L450.75 293.54 L453.24 293.76 L455.72 293.98 L458.21 294.19 L460.70 294.40 L463.18 294.61 L465.67 294.81 L468.16 295.01 L470.64 295.21 L473.13 295.41 L475.62 295.61 L478.10 295.80 L480.59 295.99 L483.08 296.18 L485.56 296.36 L488.05 296.55 L490.54 296.73 L493.02 296.91 L495.51 297.09 L498.00 297.26 L500.48 297.44 L502.97 297.61 L505.46 297.78 L507.94 297.95 L510.43 298.11 L512.92 298.28 L515.40 298.44 L517.89 298.60 L520.38 298.76 L522.87 298.92 L525.35 299.07 L527.84 299.22 L530.33 299.38 L532.81 299.53 L535.30 299.68 L537.79 299.82 L540.27 299.97 L542.76 300.11 L545.25 300.26 L547.73 300.40 L550.22 300.54 L552.71 300.68 L555.19 300.81 L557.68 300.95 L560.17 301.09 L562.65 301.22 L565.14 301.35 L567.63 301.48 L570.11 301.61 L572.60 301.74 L575.09 301.86 L577.57 301.99 L580.06 302.11 L582.55 302.24 L585.03 302.36 L587.52 302.48 L590.01 302.60 L592.49 302.72 L594.98 302.84 L597.47 302.95 L599.95 303.07 L602.44 303.18 L604.93 303.29 L607.41 303.41 L609.90 303.52 L612.39 303.63 L614.87 303.74 L617.36 303.84 L619.85 303.95 L622.33 304.06 L624.82 304.16 L627.31 304.27 L629.80 304.37 L632.28 304.47 L634.77 304.57 L637.26 304.67 L639.74 304.77 L642.23 304.87 L644.72 304.97 L647.20 305.07 L649.69 305.16 L652.18 305.26 L654.66 305.35 L657.15 305.45 L659.64 305.54 L662.12 305.63 L664.61 305.72 L667.10 305.82 L669.58 305.91 L672.07 305.99 L674.56 306.08 L677.04 306.17 L679.53 306.26 L682.02 306.34 L684.50 306.43 L686.99 306.51 L689.48 306.60 L691.96 306.68 L694.45 306.77 L696.94 306.85 L699.42 306.93 L701.91 307.01 L704.40 307.09 L706.88 307.17 L709.37 307.25 L711.86 307.33 L714.34 307.41 L716.83 307.48 L719.32 307.56 L721.80 307.64 L724.29 307.71 L726.78 307.79 L729.27 307.86 L731.75 307.93 L734.24 308.01 L736.73 308.08 L739.21 308.15 L741.70 308.22 L744.19 308.30 L746.67 308.37 L749.16 308.44 L751.65 308.51 L754.13 308.57 L756.62 308.64 L759.11 308.71 L761.59 308.78 L764.08 308.85 L766.57 308.91 L769.05 308.98 L771.54 309.04 L774.03 309.11 L776.51 309.17 L779.00 309.24" stroke="#999999" stroke-width="3" stroke-dasharray="2.4 2.3" stroke-dashoffset="2.4"/>
<line x1="90.95" y1="308.5" x2="779.05" y2="308.5" stroke="#000" stroke-width="1.3" stroke-dasharray="8.8 3.55 2.6 3.55"/>
</g>
<path d="M779.05 10.75V342.0" stroke="#262626" stroke-width="2" fill="none"/>
<path d="M89.95 11.75H780.05" stroke="#262626" stroke-width="2" fill="none"/>
<path d="M228.57 11.75V19.25M366.19 11.75V19.25M503.81 11.75V19.25M641.43 11.75V19.25M779.05 258.91H771.55M779.05 176.53H771.55M779.05 94.14H771.55" stroke="#262626" stroke-width="1.6" fill="none"/>
<g font-family="Liberation Serif, DejaVu Serif, serif" fill="#000">
<g stroke="#000" stroke-width="0.3">
<text x="90.95" y="370.3" text-anchor="middle" font-size="26">0</text>
<text x="228.57" y="370.3" text-anchor="middle" font-size="26">1</text>
<text x="366.19" y="370.3" text-anchor="middle" font-size="26">2</text>
<text x="503.81" y="370.3" text-anchor="middle" font-size="26">3</text>
<text x="641.43" y="370.3" text-anchor="middle" font-size="26">4</text>
<text x="779.05" y="370.3" text-anchor="middle" font-size="26">5</text>
</g>
<g stroke="#000" stroke-width="0.3">
<text x="49.79" y="17.75" font-size="26" textLength="31.60" lengthAdjust="spacingAndGlyphs">3.5</text>
<text x="68.76" y="100.14" font-size="26" textLength="12.95" lengthAdjust="spacingAndGlyphs">3</text>
<text x="49.79" y="182.53" font-size="26" textLength="31.71" lengthAdjust="spacingAndGlyphs">2.5</text>
<text x="68.61" y="264.91" font-size="26" textLength="13.60" lengthAdjust="spacingAndGlyphs">2</text>
<text x="49.31" y="347.30" font-size="26" textLength="32.50" lengthAdjust="spacingAndGlyphs">1.5</text>
</g>
<text x="350.95" y="410.60" font-size="31" textLength="115.09" lengthAdjust="spacingAndGlyphs">Distance</text>
<text x="478.77" y="412.90" font-size="36" textLength="6.43" lengthAdjust="spacingAndGlyphs">[</text>
<text x="484.59" y="410.60" font-size="31" textLength="26.13" lengthAdjust="spacingAndGlyphs">m</text>
<text x="510.19" y="412.90" font-size="36" textLength="6.58" lengthAdjust="spacingAndGlyphs">]</text>
<text transform="translate(23.00,235.94) rotate(-90)" font-size="29" textLength="14.87" lengthAdjust="spacingAndGlyphs" font-style="italic">α</text>
<text transform="translate(27.50,219.59) rotate(-90)" font-size="21.2" textLength="30.98" lengthAdjust="spacingAndGlyphs" font-style="italic">CC</text>
<text transform="translate(25.00,172.07) rotate(-90)" font-size="36" textLength="6.58" lengthAdjust="spacingAndGlyphs">[</text>
<text transform="translate(23.00,166.57) rotate(-90)" font-size="30.5" textLength="42.47" lengthAdjust="spacingAndGlyphs">rad</text>
<text transform="translate(25.00,122.35) rotate(-90)" font-size="36" textLength="6.88" lengthAdjust="spacingAndGlyphs">]</text>
</g>
<rect x="590.85" y="26.95" width="173.10" height="172.95" fill="#fff" stroke="#1a1a1a" stroke-width="1.5"/>
<g font-family="Liberation Serif, DejaVu Serif, serif" fill="#000">
<line x1="595.1" y1="45.5" x2="629.9" y2="45.5" stroke="#404040" stroke-width="2.8"/>
<text x="632.97" y="52.45" font-size="27" textLength="13.47" lengthAdjust="spacingAndGlyphs" font-style="italic">ε</text>
<text x="646.12" y="56.40" font-size="22.4" textLength="12.00" lengthAdjust="spacingAndGlyphs" font-style="italic">α</text>
<text x="668.69" y="56.10" font-size="31" textLength="22.78" lengthAdjust="spacingAndGlyphs">=</text>
<text x="699.6" y="52.45" font-size="28.2">-0.15</text>
<line x1="595.1" y1="79.8" x2="629.9" y2="79.8" stroke="#7a7a7a" stroke-width="3" stroke-dasharray="9.1 9.38"/>
<text x="632.97" y="86.75" font-size="27" textLength="13.47" lengthAdjust="spacingAndGlyphs" font-style="italic">ε</text>
<text x="646.12" y="90.70" font-size="22.4" textLength="12.00" lengthAdjust="spacingAndGlyphs" font-style="italic">α</text>
<text x="668.69" y="90.40" font-size="31" textLength="22.78" lengthAdjust="spacingAndGlyphs">=</text>
<text x="699.6" y="86.75" font-size="28.2">0.05</text>
<line x1="595.1" y1="113.6" x2="629.9" y2="113.6" stroke="#000000" stroke-width="3" stroke-dasharray="8.9 2.7 4.2 2.7"/>
<text x="632.97" y="120.55" font-size="27" textLength="13.47" lengthAdjust="spacingAndGlyphs" font-style="italic">ε</text>
<text x="646.12" y="124.50" font-size="22.4" textLength="12.00" lengthAdjust="spacingAndGlyphs" font-style="italic">α</text>
<text x="668.69" y="124.20" font-size="31" textLength="22.78" lengthAdjust="spacingAndGlyphs">=</text>
<text x="699.6" y="120.55" font-size="28.2">0.25</text>
<line x1="595.1" y1="147.6" x2="629.9" y2="147.6" stroke="#999999" stroke-width="3" stroke-dasharray="2.4 2.3"/>
<text x="632.97" y="154.55" font-size="27" textLength="13.47" lengthAdjust="spacingAndGlyphs" font-style="italic">ε</text>
<text x="646.12" y="158.50" font-size="22.4" textLength="12.00" lengthAdjust="spacingAndGlyphs" font-style="italic">α</text>
<text x="668.69" y="158.20" font-size="31" textLength="22.78" lengthAdjust="spacingAndGlyphs">=</text>
<text x="699.6" y="154.55" font-size="28.2">0.45</text>
<line x1="595.1" y1="181.5" x2="629.9" y2="181.5" stroke="#000" stroke-width="1.3" stroke-dasharray="8.8 3.55 2.6 3.55"/>
<text x="633.64" y="188.20" font-size="26.3" textLength="15.08" lengthAdjust="spacingAndGlyphs" font-style="italic">α</text>
<text x="650.39" y="192.60" font-size="21.6" textLength="31.39" lengthAdjust="spacingAndGlyphs" font-style="italic">CC</text>
<text x="681.55" y="194.85" font-size="13.5" textLength="13.79" lengthAdjust="spacingAndGlyphs" font-style="italic">eq</text>
</g>
</svg>
</body></html>
